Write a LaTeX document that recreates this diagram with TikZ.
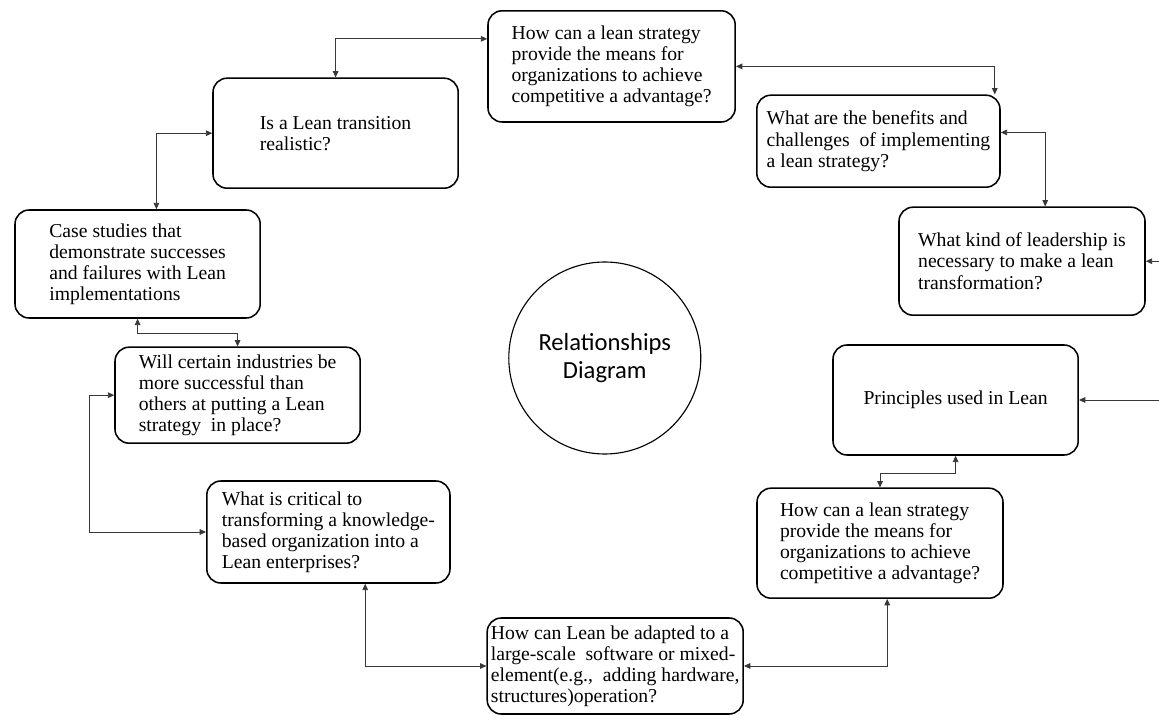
\documentclass[tikz,border=0pt]{standalone}
\usepackage{fontspec}
\setmainfont{Liberation Serif}
\newfontfamily\diagfont{Carlito}
\usetikzlibrary{arrows.meta, calc}
\definecolor{linegray}{RGB}{55,55,55}

\tikzset{
  qbox/.style={draw=black, line width=1.1pt, rounded corners=10pt,
               align=left, inner sep=2pt, font=\fontsize{14}{15}\selectfont},
  link/.style={{Triangle[length=4.5pt,width=4pt]}-{Triangle[length=4.5pt,width=4pt]},
               draw=linegray, line width=0.6pt},
}

\begin{document}
\begin{tikzpicture}
  \useasboundingbox (0,0) rectangle (28.975,-18.025);
  \clip (0,0) rectangle (28.975,-18.025);

  % centre
  \node[draw=black, line width=0.8pt, circle, minimum size=4.8cm, align=center,
        font=\diagfont\fontsize{17.5}{20.5}\selectfont]
    (hub) at (15.12,-8.95) {Relationships\\Diagram};

  % questions round the circle
  \node[qbox, minimum width=6.18cm, minimum height=2.78cm] (q1) at (15.29,-1.66)
    {How can a lean strategy\\provide the means for\\organizations to achieve\\competitive a advantage?};
  \node[qbox, minimum width=6.13cm, minimum height=2.75cm] (real) at (8.39,-3.33)
    {Is a Lean transition\\realistic?};
  \node[qbox, minimum width=6.08cm, minimum height=2.3cm] (ben) at (21.96,-3.53)
    {What are the benefits and\\challenges\ \ of implementing\\a lean strategy?};
  \node[qbox, minimum width=6.15cm, minimum height=2.7cm] (lead) at (25.55,-6.53)
    {What kind of leadership is\\necessary to make a lean\\transformation?};
  \node[qbox, minimum width=6.13cm, minimum height=2.7cm] (case) at (3.44,-6.6)
    {Case studies that\\demonstrate successes\\and failures with Lean\\implementations};
  \node[qbox, minimum width=6.13cm, minimum height=2.4cm] (ind) at (5.94,-9.88)
    {Will certain industries be\\more successful than\\others at putting a Lean\\strategy\ \ in place?};
  \node[qbox, minimum width=6.13cm, minimum height=2.75cm] (prin) at (23.89,-10.0)
    {Principles used in Lean};
  \node[qbox, minimum width=6.15cm, minimum height=2.75cm] (q2) at (22.0,-13.58)
    {How can a lean strategy\\provide the means for\\organizations to achieve\\competitive a advantage?};
  \node[qbox, minimum width=6.08cm, minimum height=2.55cm] (crit) at (8.21,-13.3)
    {What is critical to\\transforming a knowledge-\\based organization into a\\Lean enterprises?};
  \node[qbox, minimum width=6.4cm, minimum height=2.4cm, inner sep=0.5pt] (adapt) at (15.38,-16.65)
    {How can Lean be adapted to a\\large-scale\ \ software or mixed-\\element(e.g.,\ \ adding hardware,\\structures)operation?};

  % links
  \draw[link] (real.north) |- ($(q1.north west)+(0,-0.72)$);
  \draw[link] (q1.east) -| ($(ben.north east)+(-0.15,0)$);
  \draw[link] ($(ben.north east)+(0,-0.95)$) -| ($(lead.north)+(0.58,0)$);
  \draw[link] (lead.east) -- ++(0.75,0) |- (prin.east);
  \draw[link] (prin.south) -- ++(0,-0.45) -| (q2.north);
  \draw[link] ($(q2.south)+(0.18,0)$) |- (adapt.east);
  \draw[link] ($(crit.south)+(0.92,0)$) |- (adapt.west);
  \draw[link] (ind.west) -- ++(-0.63,0) |- (crit.west);
  \draw[link] (case.south) -- ++(0,-0.37) -| (ind.north);
  \draw[link] (real.west) -| ($(case.north)+(0.47,0)$);
\end{tikzpicture}
\end{document}
